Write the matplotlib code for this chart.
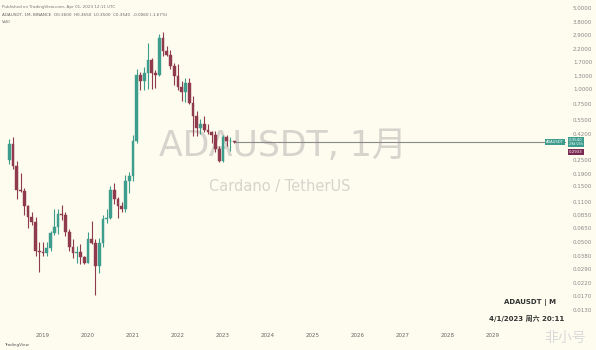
import numpy as np
import matplotlib.pyplot as plt
import matplotlib.transforms as mtransforms

# monthly candles, Apr 2018 .. Apr 2023 (ADAUSDT, log scale)
opens = [0.2500, 0.3450, 0.2230, 0.1380, 0.1360, 0.1010, 0.0810, 0.0730, 0.0420, 0.0410,
         0.0400, 0.0440, 0.0590, 0.0670, 0.0870, 0.0850, 0.0600, 0.0450, 0.0400, 0.0410,
         0.0370, 0.0330, 0.0530, 0.0490, 0.0310, 0.0490, 0.0780, 0.0790, 0.1370, 0.1150,
         0.1000, 0.0960, 0.1650, 0.1810, 0.3600, 1.3300, 1.1900, 1.3700, 1.7700, 1.3800,
         1.3300, 2.7600, 2.1300, 1.9700, 1.5700, 1.3100, 1.0400, 0.9500, 1.1400, 0.7600,
         0.5900, 0.4700, 0.5100, 0.4500, 0.4300, 0.4100, 0.3100, 0.2460, 0.3900, 0.3600,
         0.3600]
highs = [0.3800, 0.3900, 0.2450, 0.1930, 0.1450, 0.1030, 0.0890, 0.0810, 0.0500, 0.0500,
         0.0500, 0.0620, 0.0950, 0.0960, 0.1030, 0.0900, 0.0640, 0.0530, 0.0460, 0.0480,
         0.0380, 0.0600, 0.0750, 0.0530, 0.0540, 0.0840, 0.0950, 0.1500, 0.1580, 0.1200,
         0.1100, 0.1850, 0.1950, 0.4100, 1.4800, 1.4200, 1.5500, 2.4700, 1.8500, 1.4600,
         2.9700, 3.1000, 2.3500, 2.1900, 1.6800, 1.6400, 1.1800, 1.2400, 1.2500, 0.8700,
         0.6500, 0.5600, 0.5900, 0.5100, 0.4400, 0.4400, 0.3300, 0.4100, 0.4100, 0.3900,
         0.3650]
lows = [0.2300, 0.2100, 0.1160, 0.1330, 0.0850, 0.0650, 0.0690, 0.0380, 0.0275, 0.0380,
        0.0375, 0.0420, 0.0570, 0.0580, 0.0770, 0.0560, 0.0420, 0.0360, 0.0330, 0.0320,
        0.0320, 0.0330, 0.0480, 0.0175, 0.0270, 0.0450, 0.0720, 0.0780, 0.1050, 0.0790,
        0.0900, 0.0900, 0.1300, 0.1650, 0.3500, 0.9900, 0.9800, 1.0000, 1.0000, 1.0200,
        1.2900, 1.9300, 1.9300, 1.4900, 1.1000, 0.9800, 0.7900, 0.7800, 0.7500, 0.4000,
        0.4000, 0.4200, 0.4300, 0.4200, 0.3500, 0.2900, 0.2400, 0.2400, 0.3300, 0.3000,
        0.3500]
closes = [0.3450, 0.2230, 0.1380, 0.1360, 0.1010, 0.0810, 0.0730, 0.0420, 0.0410, 0.0400,
          0.0440, 0.0590, 0.0670, 0.0870, 0.0850, 0.0600, 0.0450, 0.0400, 0.0410, 0.0370,
          0.0330, 0.0530, 0.0490, 0.0310, 0.0490, 0.0780, 0.0790, 0.1370, 0.1150, 0.1000,
          0.0960, 0.1650, 0.1810, 0.3600, 1.3300, 1.1900, 1.3700, 1.7700, 1.3800, 1.3300,
          2.7600, 2.1300, 1.9700, 1.5700, 1.3100, 1.0400, 0.9500, 1.1400, 0.7600, 0.5900,
          0.4700, 0.5100, 0.4500, 0.4300, 0.4100, 0.3100, 0.2460, 0.3900, 0.3600, 0.3600,
          0.3540]

year_labels = ['2019', '2020', '2021', '2022', '2023', '2024', '2025', '2026', '2027', '2028', '2029']
year_pos = [9, 21, 33, 45, 57, 69, 81, 93, 105, 117, 129]   # month index of each January

price_ticks = [5.0, 3.8, 2.9, 2.2, 1.7, 1.3, 1.0, 0.75, 0.55, 0.42, 0.25, 0.19, 0.15,
               0.11, 0.085, 0.065, 0.05, 0.038, 0.029, 0.022, 0.017, 0.013]
last_price = closes[-1]
prev_label = 0.2933

bg = '#fdfcef'
up_col = '#3f9d8d'
dn_col = '#8f3b4d'

fig = plt.figure(figsize=(5.96, 3.5), dpi=100, facecolor=bg)
ax = fig.add_axes([0.0, 25/350, 566/596, 325/350], facecolor=bg)

o = np.array(opens); h = np.array(highs); l = np.array(lows); c = np.array(closes)
idx = np.arange(len(o))
cols = np.where(c >= o, up_col, dn_col)

ax.vlines(idx, l, h, colors=cols, linewidth=0.8, zorder=2)
ax.bar(idx, np.abs(c - o), bottom=np.minimum(o, c), width=0.75, color=cols,
       edgecolor=cols, linewidth=0.3, zorder=3)

ax.set_yscale('log')
ax.set_ylim(0.0097, 5.81)
ax.set_xlim(-2.47, 148.5)

# last price line
ax.hlines(last_price, idx[-1], 148.5, colors='#8a8a8a', linewidth=0.8, zorder=1)

for s in ax.spines.values():
    s.set_visible(False)

ax.yaxis.tick_right()
ax.set_yticks(price_ticks)
ax.set_yticklabels(['%.4f' % v for v in price_ticks])
ax.yaxis.set_minor_locator(plt.NullLocator())
ax.tick_params(axis='y', length=0, labelsize=4.0, colors='#888888', pad=5)
ax.set_xticks(year_pos)
ax.set_xticklabels(year_labels)
ax.tick_params(axis='x', length=0, labelsize=4.0, colors='#666666', pad=6)

# watermark
ax.text(0.5, 0.55, 'ADAUSDT, 1月', transform=ax.transAxes, ha='center', va='center',
        fontsize=25, color='#d6d4cc', family=['DejaVu Sans', 'Noto Sans CJK SC'], zorder=0)
ax.text(0.495, 0.425, 'Cardano / TetherUS', transform=ax.transAxes, ha='center', va='center',
        fontsize=10.5, color='#d6d4cc', zorder=0)

# header
fig.text(0.003, 0.985, 'Published on TradingView.com, Apr 01, 2023 12:11 UTC', fontsize=3,
         color='#777777', va='top')
fig.text(0.003, 0.963, 'ADAUSDT, 1M, BINANCE  O0.3600  H0.3650  L0.3500  C0.3540  -0.0060 (-1.67%)',
         fontsize=3, color='#666666', va='top')
fig.text(0.003, 0.943, 'Vol0', fontsize=3, color='#666666', va='top')

# price labels on the last-price line
tr = mtransforms.blended_transform_factory(fig.transFigure, ax.transData)
fig.text(546/596, last_price, 'ADAUSDT', transform=tr, fontsize=2.6, color='white', va='center',
         bbox=dict(boxstyle='square,pad=0.3', fc=up_col, ec='none'))
fig.text(569/596, last_price, '%.4f' % last_price, transform=tr, fontsize=2.8, color='white',
         va='bottom', bbox=dict(boxstyle='square,pad=0.3', fc=up_col, ec='none'))
fig.text(569/596, last_price, '29d 03h', transform=tr, fontsize=2.4, color='white',
         va='top', bbox=dict(boxstyle='square,pad=0.3', fc=up_col, ec='none'))
fig.text(569/596, prev_label, '%.4f' % prev_label, transform=tr, fontsize=2.8, color='white',
         va='center', bbox=dict(boxstyle='square,pad=0.3', fc='#7a2a52', ec='none'))

# bottom-right info
fig.text(530/596, 1 - 302/350, 'ADAUSDT | M', fontsize=5, color='#333333', ha='center',
         va='center', weight='bold')
fig.text(527/596, 1 - 318/350, '4/1/2023 周六 20:11', fontsize=5, color='#333333', ha='center',
         va='center', weight='bold', family=['DejaVu Sans', 'Noto Sans CJK SC'])
fig.text(4/596, 1 - 345/350, 'TradingView', fontsize=3, color='#555555', va='center')
fig.text(565/596, 1 - 338/350, '非小号', fontsize=10, color='#dadada', ha='center',
         va='center', family=['Noto Sans CJK SC', 'DejaVu Sans'])

fig.savefig('out.png', dpi=100, facecolor=bg)
